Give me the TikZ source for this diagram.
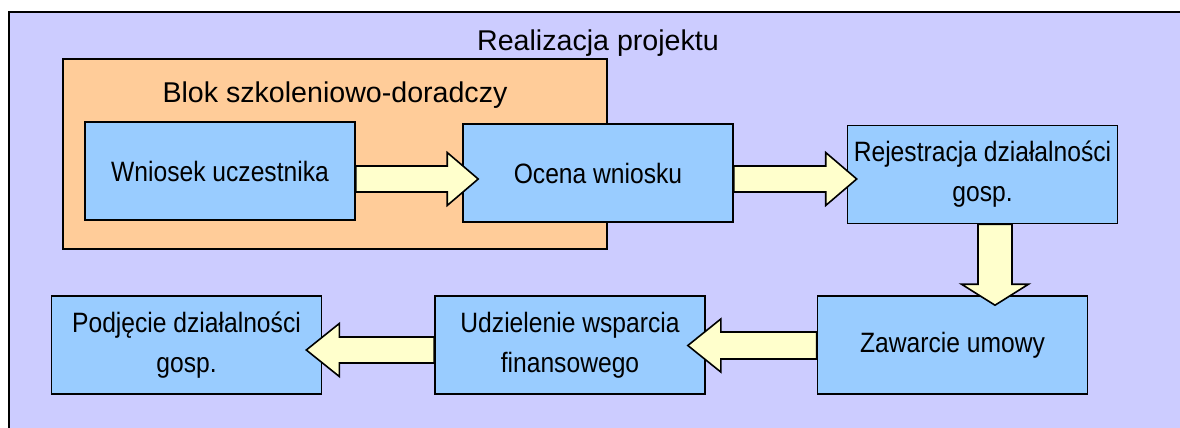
\documentclass[tikz,border=0pt]{standalone}
\usepackage{fontspec}
\setmainfont[FakeStretch=0.88]{Liberation Sans}
\newfontfamily\headfont{Liberation Sans}
\usetikzlibrary{calc}
\definecolor{myblue}{RGB}{153,204,255}
\definecolor{myorange}{RGB}{255,204,153}
\definecolor{mylilac}{RGB}{204,204,255}
\definecolor{myyellow}{RGB}{255,255,204}
\tikzset{
  stepbox/.style={draw,line width=1.6pt,fill=myblue,minimum width=270pt,minimum height=98pt,inner sep=0pt,align=center,font=\fontsize{28}{40}\selectfont},
  headtext/.style={anchor=base,inner sep=0pt,font=\headfont\fontsize{28.6}{40}\selectfont},
  fatarrow/.style={draw,line width=1.6pt,fill=myyellow,line join=miter}
}
% thick block arrow: start, tip, shaft half width, head half width, head length
\newcommand{\fatarrow}[5]{%
  \coordinate (fa-s) at #1;
  \coordinate (fa-t) at #2;
  \coordinate (fa-h) at ($(fa-t)!#5!(fa-s)$);
  \draw[fatarrow] ($(fa-s)!#3!90:(fa-t)$) -- ($(fa-h)!#3!90:(fa-t)$) -- ($(fa-h)!#4!90:(fa-t)$) -- (fa-t)
    -- ($(fa-h)!#4!-90:(fa-t)$) -- ($(fa-h)!#3!-90:(fa-t)$) -- ($(fa-s)!#3!-90:(fa-t)$) -- cycle;
}

\begin{document}
\begin{tikzpicture}[x=1pt,y=-1pt]

\useasboundingbox[fill=white] (0,0) rectangle (1180,428);

% frames
\draw[line width=1.6pt,fill=mylilac] (9,12) rectangle (1195,445);
\draw[line width=1.6pt,fill=myorange] (63,59) rectangle (607,249);
\node[headtext] (realizacja) at (598,51) {Realizacja projektu};
\node[headtext] (blok) at (335,102) {Blok szkoleniowo-doradczy};

% steps
\node[stepbox] (wniosek) at (220,171) {Wniosek uczestnika};
\node[stepbox] (ocena) at (598,173) {Ocena wniosku};
\node[stepbox] (rejestracja) at (982.5,174.5) {Rejestracja działalności\\gosp.};
\node[stepbox] (zawarcie) at (952.5,345) {Zawarcie umowy};
\node[stepbox] (udzielenie) at (570,345) {Udzielenie wsparcia\\finansowego};
\node[stepbox] (podjecie) at (186.5,345) {Podjęcie działalności\\gosp.};

% arrows
\fatarrow{($(wniosek.east)+(0,8)$)}{($(ocena.west)+(16,6)$)}{13pt}{26.5pt}{31pt}
\fatarrow{($(ocena.east)+(0,6)$)}{($(rejestracja.west)+(10,4.5)$)}{13pt}{26.5pt}{31pt}
\fatarrow{($(rejestracja.south)+(12.5,0)$)}{($(zawarcie.north)+(42.5,10)$)}{17pt}{33.5pt}{21pt}
\fatarrow{($(zawarcie.west)+(0,0.5)$)}{($(udzielenie.east)+(-18,0.5)$)}{13.5pt}{26.5pt}{33pt}
\fatarrow{($(udzielenie.west)+(0,5)$)}{($(podjecie.east)+(-16,5)$)}{13pt}{26.5pt}{33pt}

\end{tikzpicture}
\end{document}
